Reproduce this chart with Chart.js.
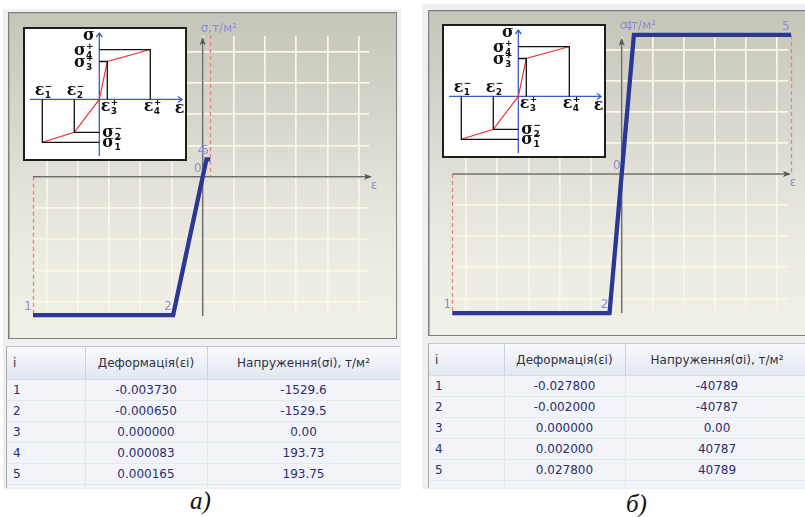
<!DOCTYPE html>
<html><head><meta charset="utf-8">
<script src="https://cdn.jsdelivr.net/npm/chart.js@4.4.1/dist/chart.umd.min.js"></script>
<style>
html,body{margin:0;padding:0;background:#fff;}
body{width:805px;height:517px;position:relative;overflow:hidden;font-family:"DejaVu Sans",sans-serif;}
.win{position:absolute;background:#f0f0f0;}
.frame{position:absolute;box-sizing:border-box;border:1px solid #7f7f7f;box-shadow:inset 1px 1px 0 #b4b4b4;
 background:linear-gradient(to bottom,#c6c5b9 0%,#d6d5cb 30%,#e4e3d9 55%,#eeede3 78%,#f1f0e7 100%);}
canvas{position:absolute;}
.inset{position:absolute;box-sizing:border-box;border:2px solid #1e1e1e;background:#fff;}
.tbl{position:absolute;overflow:hidden;border-left:1px solid #a8a8a8;border-top:1px solid #c8c8c8;background:#f3f4f9;}
.tbl table{border-collapse:collapse;table-layout:fixed;font-size:12px;font-family:"DejaVu Sans",sans-serif;color:#2a2d6e;}
.tbl th{background:linear-gradient(to bottom,#f8f9fc,#e2e8f1);border-right:1px solid #c9d3df;border-bottom:1px solid #d5dce6;font-weight:normal;color:#303040;padding:0;white-space:nowrap;}
.tbl td{height:20px;padding:0;text-align:center;border-right:1px solid #e3e6ef;border-bottom:1px solid #e6e8f0;background:#f3f4f9;white-space:nowrap;}
.tbl .i{text-align:left;padding-left:6px;}
.cap{position:absolute;font-family:"Liberation Serif",serif;font-style:italic;font-size:25px;color:#111;line-height:1;}
</style></head>
<body>
<div class="win" style="left:3px;top:9px;width:398px;height:480px;"></div>
<div class="win" style="left:422px;top:4px;width:383px;height:485px;"></div>

<div class="frame" style="left:8px;top:12px;width:389px;height:327px;"></div>
<canvas id="chartA" width="400" height="340" style="left:0;top:0;"></canvas>
<div class="inset" style="left:23px;top:27px;width:164px;height:134px;"><canvas id="insetA" width="160" height="130" style="left:0;top:0;"></canvas></div>

<div class="frame" style="left:428px;top:10px;width:400px;height:326px;"></div>
<canvas id="chartB" width="384" height="340" style="left:421px;top:0;"></canvas>
<div class="inset" style="left:442px;top:24px;width:164px;height:134px;"><canvas id="insetB" width="160" height="130" style="left:0;top:0;"></canvas></div>

<div class="tbl" id="tblA" style="left:6px;top:346px;width:393px;height:141px;"></div>
<div class="tbl" id="tblB" style="left:428px;top:343px;width:380px;height:144px;"></div>

<div class="cap" style="left:190px;top:488px;">а)</div>
<div class="cap" style="left:626px;top:491px;">б)</div>

<script>
// ---------- data ----------
const pointNames = ['1', '2', '0', '4', '5'];
const epsA = [-0.003730, -0.000650, 0.000000, 0.000083, 0.000165];
const sigA = [-1529.6, -1529.5, 0.00, 193.73, 193.75];
const epsB = [-0.027800, -0.002000, 0.000000, 0.002000, 0.027800];
const sigB = [-40789, -40787, 0.00, 40787, 40789];
const headerCols = ['i', 'Деформація(εі)', 'Напруження(σі), т/м²'];
const axisTitleY = 'σ,т/м²';
const axisTitleX = 'ε';
// schematic inset diagram (relative units)
const insetEps = [-5.7, -2.5, 0, 0.8, 5.1];
const insetSig = [-4.3, -3.3, 0, 3.8, 5.0];
const insetIdx = ['1', '2', '', '3', '4'];

Chart.defaults.font.family = '"DejaVu Sans", sans-serif';

function gridTicks(step) {
  return function (scale) {
    const t = [];
    const s = Math.ceil(scale.min / step - 1e-6), e = Math.floor(scale.max / step + 1e-6);
    for (let k = s; k <= e; k++) t.push({ value: k * step });
    scale.ticks = t;
  };
}

function ln(ctx, x1, y1, x2, y2) { ctx.beginPath(); ctx.moveTo(x1, y1); ctx.lineTo(x2, y2); ctx.stroke(); }

const panelDecor = {
  id: 'panelDecor',
  beforeDatasetsDraw(chart) {
    const o = chart.options.plugins.panelDecor;
    const { ctx, chartArea: a, scales: { x, y } } = chart;
    const eps = o.eps, sig = o.sig, n = eps.length;
    const x0 = x.getPixelForValue(0), y0 = y.getPixelForValue(0);
    const xf = x.getPixelForValue(eps[0]), yf = y.getPixelForValue(sig[0]);
    const xl = x.getPixelForValue(eps[n - 1]);
    const yl = Math.min(y.getPixelForValue(sig[n - 1]), a.top - 1);
    ctx.save();
    ctx.strokeStyle = '#f27e7e'; ctx.lineWidth = 1.3; ctx.setLineDash([4, 3]);
    ln(ctx, Math.round(xf) + 0.5, y0, Math.round(xf) + 0.5, yf);
    ln(ctx, Math.round(xl) + 0.5, yl, Math.round(xl) + 0.5, y0);
    ctx.setLineDash([]);
    ctx.strokeStyle = '#6d6d6d'; ctx.fillStyle = '#555'; ctx.lineWidth = 1.5;
    const xr = a.right + 3;
    ln(ctx, xf, y0, xr - 2, y0);
    ln(ctx, x0, a.bottom + 3, x0, a.top + 3);
    ctx.beginPath(); ctx.moveTo(xr, y0); ctx.lineTo(xr - 8, y0 - 3); ctx.lineTo(xr - 6, y0); ctx.lineTo(xr - 8, y0 + 3); ctx.closePath(); ctx.fill();
    const yt = a.top + 1;
    ctx.beginPath(); ctx.moveTo(x0, yt); ctx.lineTo(x0 - 3, yt + 8); ctx.lineTo(x0, yt + 6); ctx.lineTo(x0 + 3, yt + 8); ctx.closePath(); ctx.fill();
    ctx.restore();
  },
  afterDatasetsDraw(chart) {
    const o = chart.options.plugins.panelDecor;
    const { ctx, chartArea: a, scales: { x, y } } = chart;
    const x0 = x.getPixelForValue(0), y0 = y.getPixelForValue(0);
    ctx.save();
    ctx.fillStyle = '#8c8cd2';
    ctx.font = '12px "DejaVu Sans"';
    ctx.textAlign = 'center'; ctx.textBaseline = 'middle';
    o.eps.forEach((e, i) => {
      ctx.fillText(pointNames[i], x.getPixelForValue(e) - 5, y.getPixelForValue(o.sig[i]) - 8);
    });
    ctx.textAlign = 'left';
    ctx.fillText(axisTitleY, x0 - 2, o.titleY);
    ctx.textAlign = 'center';
    ctx.fillText(axisTitleX, a.right + 5, y0 + 9);
    ctx.restore();
  }
};

function mainChart(id, eps, sig, r) {
  const pts = eps.map((e, i) => ({ x: e, y: sig[i] }));
  const gridOpt = { color: '#faf6e8', lineWidth: 1.7, drawTicks: false };
  return new Chart(document.getElementById(id), {
    type: 'scatter',
    data: { datasets: [{ data: pts, showLine: true, borderColor: '#2a3794', borderWidth: 4.3, pointRadius: 0, tension: 0, clip: false, borderJoinStyle: 'miter' }] },
    options: {
      responsive: false, animation: false, events: [],
      layout: { padding: r.pad },
      scales: {
        x: { type: 'linear', min: eps[0], max: r.xMax, afterBuildTicks: gridTicks(r.xStep), ticks: { display: false }, border: { display: false }, grid: gridOpt },
        y: { type: 'linear', min: r.yMin, max: r.yMax, afterBuildTicks: gridTicks(r.yStep), ticks: { display: false }, border: { display: false }, grid: gridOpt }
      },
      plugins: { legend: { display: false }, tooltip: { enabled: false }, panelDecor: { eps, sig, titleY: r.titleY } }
    },
    plugins: [panelDecor]
  });
}

mainChart('chartA', epsA, sigA, { pad: { left: 33, top: 36, right: 31, bottom: 27 }, xMax: 0.003655, yMin: -1506.6, yMax: 1557.5, xStep: 0.0006857, yStep: 345.7, titleY: 29 });
mainChart('chartB', epsB, sigB, { pad: { left: 31.3, top: 36.7, right: 17, bottom: 30 }, xMax: 0.02729, yMin: -39883, yMax: 40264, xStep: 0.005103, yStep: 9120, titleY: 26 });

// ---------- inset schematic ----------
function drawSym(ctx, base, idx, sign, x, y, align) {
  ctx.font = 'bold 16px "DejaVu Serif"';
  const w = ctx.measureText(base).width;
  ctx.font = 'bold 9px "DejaVu Sans"';
  const sw = Math.max(ctx.measureText(idx).width, ctx.measureText(sign).width);
  const tot = w + (idx || sign ? sw + 1 : 0);
  let sx = align === 'center' ? x - tot / 2 : align === 'right' ? x - tot : x;
  ctx.textAlign = 'left'; ctx.textBaseline = 'middle'; ctx.fillStyle = '#111';
  ctx.font = 'bold 16px "DejaVu Serif"';
  ctx.fillText(base, sx, y - 1);
  ctx.font = 'bold 9px "DejaVu Sans"';
  if (sign) ctx.fillText(sign, sx + w + 0.3, y - 5);
  if (idx) ctx.fillText(idx, sx + w + 0.3, y + 4);
}

const insetDecor = {
  id: 'insetDecor',
  beforeDatasetsDraw(chart) {
    const { ctx, chartArea: a, scales: { x, y } } = chart;
    const x0 = x.getPixelForValue(0), y0 = y.getPixelForValue(0);
    ctx.save();
    ctx.strokeStyle = '#3a5cc8'; ctx.lineWidth = 1.3;
    const xl = a.left + 5, xr = a.right - 3, yb = a.bottom - 3, yt = a.top + 4;
    ln(ctx, xl, y0, xr, y0);
    ln(ctx, x0, yb, x0, yt);
    ctx.beginPath(); ctx.moveTo(xr - 4, y0 - 3); ctx.lineTo(xr, y0); ctx.lineTo(xr - 4, y0 + 3); ctx.stroke();
    ctx.beginPath(); ctx.moveTo(x0 - 3, yt + 4); ctx.lineTo(x0, yt); ctx.lineTo(x0 + 3, yt + 4); ctx.stroke();
    ctx.restore();
  },
  afterDatasetsDraw(chart) {
    const { ctx, chartArea: a, scales: { x, y } } = chart;
    const x0 = x.getPixelForValue(0), y0 = y.getPixelForValue(0);
    ctx.save();
    insetEps.forEach((e, i) => {
      if (!insetIdx[i]) return;
      const px = x.getPixelForValue(e), py = y.getPixelForValue(insetSig[i]);
      const sign = e < 0 ? '−' : '+';
      if (e < 0) {
        drawSym(ctx, 'ε', insetIdx[i], sign, px + 1.5, y0 - 8, 'center');
        drawSym(ctx, 'σ', insetIdx[i], sign, x0 + 3, py + 1.5, 'left');
      } else {
        drawSym(ctx, 'ε', insetIdx[i], sign, px + 2.5, y0 + 8.5, 'center');
        drawSym(ctx, 'σ', insetIdx[i], sign, x0 - 5, py + 2, 'right');
      }
    });
    drawSym(ctx, 'σ', '', '', x0 - 10.5, a.top + 7.5, 'center');
    drawSym(ctx, 'ε', '', '', a.right - 5.5, y0 + 10, 'center');
    ctx.restore();
  }
};

function insetChart(id) {
  const guides = [];
  insetEps.forEach((e, i) => {
    if (!insetIdx[i]) return;
    guides.push({ data: [{ x: e, y: 0 }, { x: e, y: insetSig[i] }, { x: 0, y: insetSig[i] }], showLine: true, borderColor: '#111', borderWidth: 1.3, pointRadius: 0, tension: 0 });
  });
  const curve = { data: insetEps.map((e, i) => ({ x: e, y: insetSig[i] })), showLine: true, borderColor: '#f02a2a', borderWidth: 1.1, pointRadius: 0, tension: 0 };
  return new Chart(document.getElementById(id), {
    type: 'scatter',
    data: { datasets: [...guides, curve] },
    options: {
      responsive: false, animation: false, events: [], layout: { padding: 0 },
      scales: { x: { display: false, min: -7.43, max: 8.57 }, y: { display: false, min: -5.97, max: 7.06 } },
      plugins: { legend: { display: false }, tooltip: { enabled: false } }
    },
    plugins: [insetDecor]
  });
}
insetChart('insetA');
insetChart('insetB');

// ---------- tables ----------
function fmtSig(v) { return v === 0 ? '0.00' : v.toPrecision(5); }
function buildTable(id, eps, sig, widths, headH) {
  const el = document.getElementById(id);
  let h = '<table style="width:' + widths.reduce((s, v) => s + v, 0) + 'px"><colgroup>' + widths.map(w => '<col style="width:' + w + 'px">').join('') + '</colgroup>';
  h += '<tr>' + headerCols.map((c, i) => '<th class="' + (i === 0 ? 'i' : '') + '" style="height:' + headH + 'px">' + c + '</th>').join('') + '</tr>';
  eps.forEach((e, i) => {
    h += '<tr><td class="i">' + (i + 1) + '</td><td>' + e.toFixed(6) + '</td><td>' + fmtSig(sig[i]) + '</td></tr>';
  });
  h += '<tr><td class="i"></td><td></td><td></td></tr></table>';
  el.innerHTML = h;
}
buildTable('tblA', epsA, sigA, [78, 122, 193], 32);
buildTable('tblB', epsB, sigB, [75, 121, 184], 31);
</script>
</body></html>
